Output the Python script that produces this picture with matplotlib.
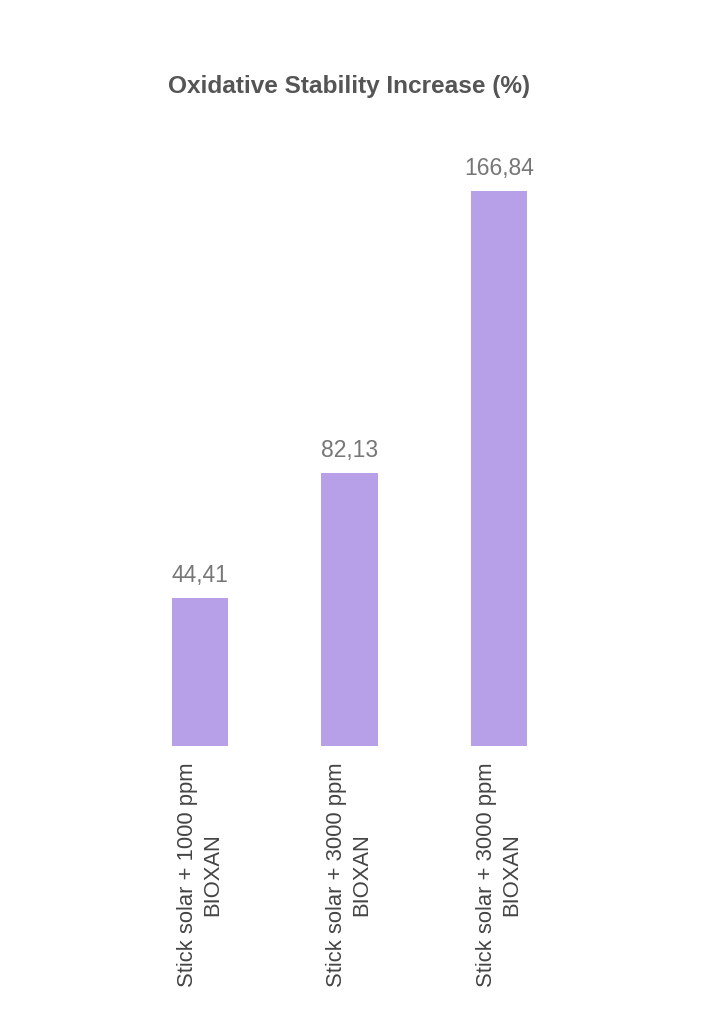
import matplotlib
matplotlib.use('Agg')
import matplotlib.pyplot as plt
import numpy as np

plt.rcParams['font.family'] = ['Liberation Sans', 'DejaVu Sans']

categories = [
    'Stick solar + 1000 ppm\nBIOXAN',
    'Stick solar + 3000 ppm\nBIOXAN',
    'Stick solar + 3000 ppm\nBIOXAN',
]
values = [44.41, 82.13, 166.84]
value_labels = ['44,41', '82,13', '166,84']

BAR_COLOR = '#b8a0e8'

fig = plt.figure(figsize=(7.16, 10.24), dpi=100)
W, H = 716, 1024
left, right = 125, 574
bottom, top = 746, 147
ax = fig.add_axes([left / W, 1 - bottom / H, (right - left) / W, (bottom - top) / H])

x = np.arange(len(values))
bars = ax.bar(x, values, width=0.375, color=BAR_COLOR)

for bar, lab in zip(bars, value_labels):
    ax.annotate(lab, (bar.get_x() + bar.get_width() / 2, bar.get_height()),
                xytext=(0, 11.5), textcoords='offset points',
                ha='center', va='baseline', fontsize=16.5, color='#777777')

ax.set_xlim(-0.5, 2.5)
ax.set_ylim(0, 180)
ax.set_xticks(x)
ax.set_xticklabels(categories, rotation=90, ha='center', va='top',
                   multialignment='center', fontsize=15.8, color='#444444',
                   linespacing=1.27)
ax.tick_params(axis='x', length=0, pad=12)
ax.set_yticks([])
for s in ax.spines.values():
    s.set_visible(False)

fig.text((left + right) / 2 / W, 1 - 93 / H, 'Oxidative Stability Increase (%)',
         ha='center', va='baseline', fontsize=17.6, fontweight='bold', color='#555555')

fig.savefig('out.png', dpi=100)
